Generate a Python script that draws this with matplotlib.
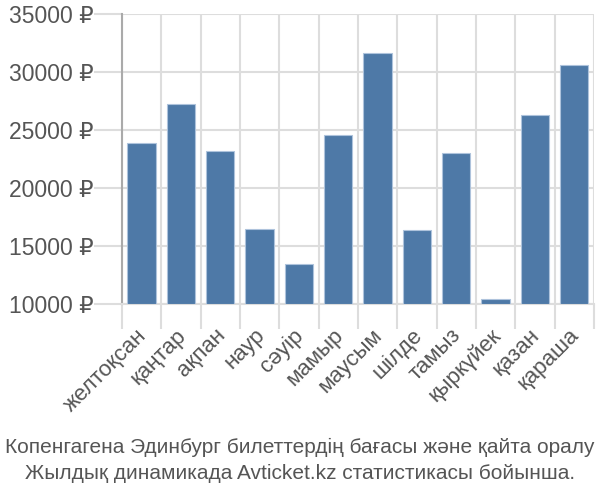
import matplotlib.pyplot as plt
from matplotlib.ticker import FuncFormatter, FixedLocator
from matplotlib.transforms import ScaledTranslation

months = ["желтоқсан", "қаңтар", "ақпан", "наур", "сәуір", "мамыр",
          "маусым", "шілде", "тамыз", "қыркүйек", "қазан", "қараша"]
prices = [23850, 27200, 23200, 16500, 13450, 24570,
          31640, 16380, 23020, 10400, 26300, 30630]
yticks = [10000, 15000, 20000, 25000, 30000, 35000]
caption = ["Копенгагена Эдинбург билеттердің бағасы және қайта оралу",
           "Жылдық динамикада Avticket.kz статистикасы бойынша."]

plt.rcParams['font.family'] = ['Liberation Sans', 'DejaVu Sans']
txt = '#555555'
grid = '#dddddd'

fig = plt.figure(figsize=(6, 5), dpi=100)
ax = fig.add_axes([0.203, 0.392, 0.787, 0.58])

x = range(len(months))
ax.bar(x, [p - 10000 for p in prices], bottom=10000, width=0.72,
       color='#4e79a7', edgecolor='#aec3dc', linewidth=0.8, zorder=3)

ax.set_xlim(-0.5, len(months) - 0.5)
ax.set_ylim(10000, 35000)
ax.set_yticks(yticks)
ax.yaxis.set_major_formatter(FuncFormatter(lambda v, p: f"{int(v)} ₽"))

# category boundaries as grid lines / ticks
ax.set_xticks([i + 0.5 for i in range(-1, len(months))], minor=False)
ax.set_xticklabels([])
ax.xaxis.set_minor_locator(FixedLocator(list(x)))
ax.set_xticklabels(months, minor=True, rotation=45, ha='right',
                   rotation_mode='anchor', fontsize=16, color=txt)
ax.tick_params(axis='x', which='minor', length=0, pad=15)
ax.tick_params(axis='x', which='major', length=18, color=grid, width=1.5)
ax.tick_params(axis='y', length=20, color=grid, width=1.5,
               labelsize=16.5, labelcolor=txt, pad=0.5)

shift = ScaledTranslation(-4 / 72, 0, fig.dpi_scale_trans)
for lab in ax.get_xticklabels(minor=True):
    lab.set_transform(lab.get_transform() + shift)

ax.grid(True, which='major', color=grid, linewidth=1.5, zorder=0)
for s in ['top', 'right']:
    ax.spines[s].set_visible(False)
ax.spines['bottom'].set_color(grid)
ax.spines['bottom'].set_linewidth(1.5)
ax.spines['left'].set_color('#aaaaaa')
ax.spines['left'].set_linewidth(1.5)

fig.text(0.5, 0.105, caption[0], ha='center', va='center', fontsize=15, color=txt)
fig.text(0.5, 0.053, caption[1], ha='center', va='center', fontsize=15, color=txt)

fig.savefig('out.png', dpi=100)
